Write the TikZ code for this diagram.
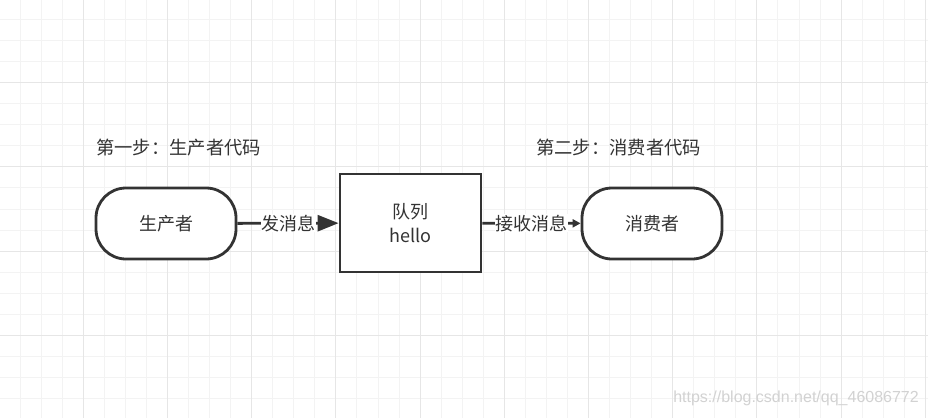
\documentclass[tikz,border=0pt]{standalone}
\usepackage{fontspec}
\setmainfont{Noto Sans CJK SC}
\newfontfamily\markfont{Liberation Sans}
\usetikzlibrary{arrows.meta}
\definecolor{inkgray}{HTML}{333333}
\definecolor{gridminor}{HTML}{F3F3F3}
\definecolor{gridmajor}{HTML}{E6E6E6}
\tikzset{terminal style/.style={
		draw=inkgray,
		line width=2.8pt,
		fill=white,
		text=inkgray,
		rectangle,
		rounded corners=30pt,
		minimum width=140pt,
		minimum height=71pt,
		font=\fontsize{18}{20}\selectfont,
	},
	queue style/.style={
		draw=inkgray,
		line width=2.8pt,
		fill=white,
		text=inkgray,
		rectangle,
		align=center,
		minimum width=141pt,
		minimum height=98pt,
		font=\fontsize{18}{24}\selectfont,
	},
	title style/.style={
		text=inkgray,
		anchor=west,
		inner sep=0pt,
		font=\fontsize{18.3}{20}\selectfont,
	},
	edge style/.style={
		fill=white,
		text=inkgray,
		inner sep=0.5pt,
		font=\fontsize{18}{20}\selectfont,
	}
}

\begin{document}
\begin{tikzpicture}[x=1pt,y=-1pt]
	\useasboundingbox (0,0) rectangle (928,418);
	\fill[white] (0,0) rectangle (928,418);
	% grid
	\foreach \i in {0,...,44}
		\draw[gridminor, line width=1pt] ({-0.9+21.05*\i},0) -- ++(0,418);
	\foreach \i in {0,...,20}
		\draw[gridminor, line width=1pt] (0,{-1.5+21.05*\i}) -- ++(928,0);
	\foreach \i in {0,...,11}
		\draw[gridmajor, line width=1pt] ({-0.9+84.2*\i},0) -- ++(0,418);
	\foreach \i in {0,...,5}
		\draw[gridmajor, line width=1pt] (0,{-1.5+84.2*\i}) -- ++(928,0);

	\node[title style] (ProducerTitle) at (96,148) {第一步：生产者代码};
	\node[title style] (ConsumerTitle) at (536,148) {第二步：消费者代码};

	\node[terminal style] (Producer) at (166,223.5) {生产者};
	\node[queue style] (Queue) at (410.5,223) {队列\\hello};
	\node[terminal style] (Consumer) at (652,223.5) {消费者};

	\draw[inkgray, line width=2.8pt, -{Triangle[length=21pt,width=16pt]}]
		(Producer) -- node[edge style]{发消息} (Queue);
	\draw[inkgray, line width=2.8pt, -{Triangle[length=8pt,width=8pt]}]
		(Queue) -- node[edge style]{接收消息} (Consumer);

	\node[text=gray!35, anchor=east, inner sep=0pt, font=\markfont\fontsize{16}{18}\selectfont]
		(Mark) at (919,398) {https://blog.csdn.net/qq\_46086772};
\end{tikzpicture}
\end{document}
